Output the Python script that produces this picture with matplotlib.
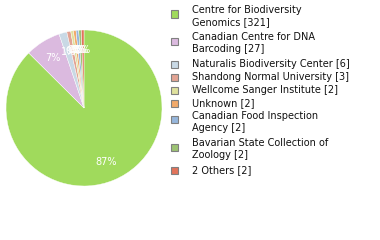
import matplotlib
matplotlib.use("Agg")
import matplotlib.pyplot as plt
from matplotlib.patches import Rectangle

labels = ["Centre for Biodiversity\nGenomics [321]", "Canadian Centre for DNA\nBarcoding [27]",
          "Naturalis Biodiversity Center [6]", "Shandong Normal University [3]",
          "Wellcome Sanger Institute [2]", "Unknown [2]",
          "Canadian Food Inspection\nAgency [2]", "Bavarian State Collection of\nZoology [2]",
          "2 Others [2]"]
counts = [321, 27, 6, 3, 2, 2, 2, 2, 2]
colors = ["#a0da5c", "#dbbadf", "#c9d9e5", "#e2a393", "#dfe19d", "#f2aa6a",
          "#96b6dc", "#9dc373", "#e2735a"]

W, H = 380, 240
fig = plt.figure(figsize=(3.8, 2.4), dpi=100)
ax = fig.add_axes([6 / W, 1 - 186 / H, 156 / W, 156 / H])
wedges, texts, autotexts = ax.pie(
    counts, colors=colors, startangle=90, counterclock=False,
    autopct=lambda p: f"{int(p)}%", pctdistance=0.75,
    wedgeprops=dict(linewidth=0.3, edgecolor="white"),
    textprops=dict(color="white", fontsize=7))
ax.set_xlim(-1, 1)
ax.set_ylim(-1, 1)
ax.set_aspect("equal")

# legend drawn by hand, pixel positions from top-left
y = 10
for lab, col in zip(labels, colors):
    lines = lab.split("\n")
    ysq = y + 4 if len(lines) > 1 else y
    fig.patches.append(Rectangle((171 / W, 1 - (ysq + 3.5) / H), 7 / W, 7 / H,
                                 transform=fig.transFigure, facecolor=col,
                                 edgecolor="#808080", linewidth=0.8))
    for i, line in enumerate(lines):
        fig.text(192 / W, 1 - (y + 12 * i) / H, line, fontsize=7, va="center",
                 ha="left", color="#111111")
    y += 27 if len(lines) > 1 else 13

fig.savefig("out.png", dpi=100)
